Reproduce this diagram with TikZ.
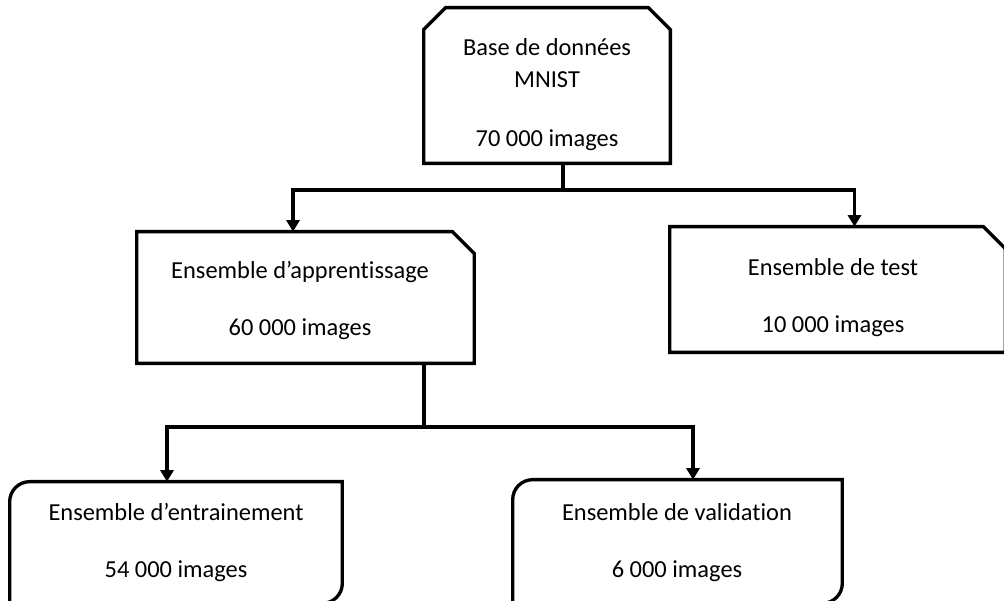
\documentclass[tikz,border=0pt]{standalone}
\usepackage{fontspec}
\setmainfont{Carlito}[Ligatures={NoCommon,NoContextual}]
\usepackage{tikz}
\usetikzlibrary{arrows.meta,calc}

\begin{document}
\begin{tikzpicture}[x=0.02cm,y=0.02cm,
  box/.style={rectangle,draw=none,inner sep=0pt},
  lbl/.style={align=center,inner sep=0pt,font=\fontsize{13.9}{18.2}\selectfont},
  frame/.style={line width=1.9pt},
  link/.style={line width=1.9pt},
  arrow/.style={line width=1.9pt,-{Triangle[width=0.26cm,length=0.23cm]}}]

\path[use as bounding box,clip] (0,0) rectangle (1004,-601);

% boxes
\node[box,minimum width=4.92cm,minimum height=3.1cm] (mnist) at (547,-85.5) {};
\node[box,minimum width=6.74cm,minimum height=2.62cm] (appr) at (305.5,-297.5) {};
\node[box,minimum width=6.7cm,minimum height=2.5cm] (test) at (837.5,-289.5) {};
\node[box,minimum width=6.64cm,minimum height=2.42cm] (train) at (176,-542.5) {};
\node[box,minimum width=6.58cm,minimum height=2.46cm] (valid) at (677.5,-541.5) {};

% outlines
\draw[frame] (mnist.south west) -- ([yshift=-0.44cm]mnist.north west)
  -- ([xshift=0.44cm]mnist.north west) -- ([xshift=-0.44cm]mnist.north east)
  -- ([yshift=-0.44cm]mnist.north east) -- (mnist.south east) -- cycle;
\draw[frame] (appr.south west) -- (appr.north west)
  -- ([xshift=-0.44cm]appr.north east) -- ([yshift=-0.44cm]appr.north east)
  -- (appr.south east) -- cycle;
\draw[frame] (test.south west) -- (test.north west)
  -- ([xshift=-0.44cm]test.north east) -- ([yshift=-0.44cm]test.north east)
  -- (test.south east) -- cycle;
\draw[frame] (train.south west) -- ([yshift=-0.4cm]train.north west)
  arc[start angle=180,end angle=90,radius=0.4cm] -- (train.north east)
  -- ([yshift=0.4cm]train.south east)
  arc[start angle=0,end angle=-90,radius=0.4cm] -- cycle;
\draw[frame] (valid.south west) -- ([yshift=-0.4cm]valid.north west)
  arc[start angle=180,end angle=90,radius=0.4cm] -- (valid.north east)
  -- ([yshift=0.4cm]valid.south east)
  arc[start angle=0,end angle=-90,radius=0.4cm] -- cycle;

% texts
\node[lbl] (mnisttxt) at (547,-94.5) {Base de données\\MNIST\\[15.4pt]70 000 images};
\node[lbl] (apprtxt) at (300,-300.5) {Ensemble d’apprentissage\\[14.2pt]60 000 images};
\node[lbl] (testtxt) at (833,-298) {Ensemble de test\\[14.2pt]10 000 images};
\node[lbl] (traintxt) at (176,-542.5) {Ensemble d’entrainement\\[14.2pt]54 000 images};
\node[lbl] (validtxt) at (677,-542.5) {Ensemble de validation\\[14.2pt]6 000 images};

% connectors
\coordinate (split1) at (563,-190);
\coordinate (split2) at (424,-427);
\draw[link] (mnist.south -| split1) -- (split1);
\draw[arrow] (split1) -| ([xshift=-0.25cm]appr.north);
\draw[arrow] (split1) -| ([xshift=0.34cm]test.north);
\draw[link] (appr.south -| split2) -- (split2);
\draw[arrow] (split2) -| ([xshift=-0.18cm]train.north);
\draw[arrow] (split2) -| ([xshift=0.31cm]valid.north);
\end{tikzpicture}
\end{document}
